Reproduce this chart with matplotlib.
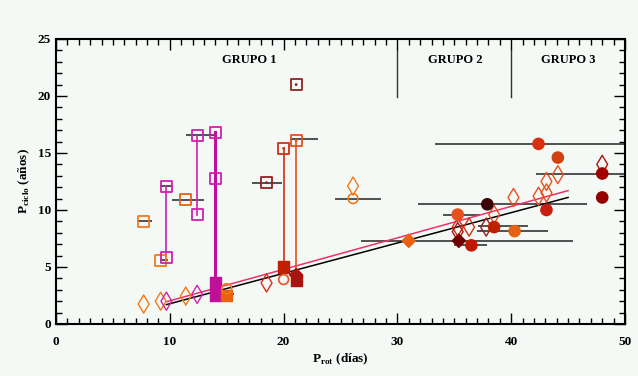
import matplotlib
matplotlib.use('Agg')
import matplotlib.pyplot as plt
from matplotlib.ticker import MultipleLocator

plt.rcParams['font.family'] = ['Liberation Serif', 'DejaVu Serif']
plt.rcParams['font.weight'] = 'bold'
plt.rcParams['mathtext.fontset'] = 'custom'
plt.rcParams['mathtext.rm'] = 'Liberation Serif:bold'

MAG = '#d020b0'
MAGF = '#c0109a'
ORA = '#f07a1a'
ORA2 = '#e86010'
ORR = '#e85020'
RED = '#d03018'
DRED = '#a81410'
BRN = '#922222'
DARK = '#3a0505'

# open squares
osq_x = [7.7, 9.2, 9.7, 9.7, 11.4, 12.4, 12.4, 14.0, 14.0, 18.5, 20.0, 21.1, 21.1]
osq_y = [9.0, 5.6, 12.1, 5.8, 10.9, 16.5, 9.6, 16.8, 12.8, 12.4, 15.4, 16.1, 21.0]
osq_c = [ORA, ORA, MAG, MAG, ORA2, MAG, MAG, MAG, MAG, BRN, RED, ORR, BRN]

# filled squares
fsq_x = [14.0, 14.0, 15.0, 20.0, 21.1]
fsq_y = [3.6, 2.5, 2.5, 5.0, 3.8]
fsq_c = [MAGF, MAGF, ORA2, '#c02000', DRED]

# open diamonds
odm_x = [7.7, 9.2, 9.7, 11.4, 12.4, 18.5, 26.1, 35.3, 35.3, 36.3, 37.8, 38.5,
         40.2, 42.4, 43.1, 43.1, 44.1, 48.0]
odm_y = [1.75, 2.0, 2.0, 2.45, 2.6, 3.6, 12.1, 8.5, 8.1, 8.5, 8.5, 9.6,
         11.1, 11.2, 11.5, 12.5, 13.1, 14.0]
odm_c = [ORA, ORA, MAG, ORA, MAG, RED, ORA, RED, DRED, RED, BRN, ORR,
         ORR, ORR, ORR, ORR, ORR, DRED]

# open circles
oci_x = [15.0, 20.0, 26.1]
oci_y = [3.1, 3.9, 11.0]
oci_c = [ORA, ORR, ORA]

# filled circles
fci_x = [35.3, 36.5, 37.9, 38.5, 40.3, 42.4, 43.1, 44.1, 48.0, 48.0]
fci_y = [9.6, 6.9, 10.5, 8.5, 8.15, 15.8, 10.0, 14.6, 13.2, 11.1]
fci_c = [ORR, '#c01800', DARK, '#c02000', ORA2, '#d83010', '#c82010',
         '#d04010', '#a00000', '#900000']

# filled diamonds
fdm_x = [21.1, 31.0, 35.4]
fdm_y = [4.3, 7.3, 7.3]
fdm_c = [DRED, ORA2, '#700000']

# horizontal error bars: y, xmin, xmax
hb_y = [9.0, 5.6, 12.1, 10.9, 16.6, 2.6, 12.4, 16.2, 11.0, 7.3, 6.9,
        10.5, 9.6, 8.6, 8.2, 15.8, 13.2]
hb_x0 = [7.2, 9.1, 9.1, 10.2, 11.4, 13.5, 17.2, 20.6, 24.5, 26.8, 35.0,
         31.8, 34.0, 37.1, 37.0, 33.3, 42.2]
hb_x1 = [8.4, 9.8, 10.2, 13.0, 13.9, 15.6, 19.9, 23.0, 28.6, 45.4, 37.9,
         46.7, 37.3, 41.5, 43.2, 50.0, 50.0]

# vertical connecting lines
vl_x = [9.7, 12.4, 14.0, 20.0, 21.1]
vl_y0 = [5.8, 9.6, 2.5, 5.0, 4.0]
vl_y1 = [12.1, 16.5, 16.8, 15.4, 16.1]
vl_c = [MAG, MAG, MAGF, RED, ORR]
vl_w = [1.2, 1.2, 2.2, 1.2, 1.2]

# fit lines
fit_x = [9.7, 45.0]
fit_black = [1.7, 11.1]
fit_red = [1.95, 11.7]

groups = ['GRUPO 1', 'GRUPO 2', 'GRUPO 3']
group_x = [17.0, 35.1, 45.0]
sep_x = [30, 40]

bg = '#f5f9f5'
fig = plt.figure(figsize=(6.38, 3.76), dpi=100, facecolor=bg)
ax = fig.add_axes([0.0878, 0.1383, 0.8918, 0.758], facecolor=bg)

ax.hlines(hb_y, hb_x0, hb_x1, color='#222222', lw=1.1, zorder=2)
for x, a, b, c, w in zip(vl_x, vl_y0, vl_y1, vl_c, vl_w):
    ax.plot([x, x], [a, b], color=c, lw=w, zorder=2)

ax.plot(fit_x, fit_black, color='black', lw=1.1, zorder=3)
ax.plot(fit_x, fit_red, color='#f0306a', lw=1.1, zorder=3)

ax.scatter(osq_x, osq_y, marker='s', s=62, facecolors='none',
           edgecolors=osq_c, linewidths=1.3, zorder=4)
ax.scatter([18.5, 20.0, 21.1, 21.1], [12.4, 15.4, 16.1, 21.0], marker='.',
           s=4, color=[BRN, RED, ORR, BRN], zorder=4)
ax.scatter(fsq_x, fsq_y, marker='s', s=65, color=fsq_c, zorder=4)
ax.scatter(odm_x, odm_y, marker='d', s=85, facecolors='none',
           edgecolors=odm_c, linewidths=1.0, zorder=4)
ax.scatter(oci_x, oci_y, marker='o', s=50, facecolors='none',
           edgecolors=oci_c, linewidths=1.2, zorder=4)
ax.scatter(fci_x, fci_y, marker='o', s=65, color=fci_c, zorder=4)
ax.scatter(fdm_x, fdm_y, marker='D', s=45, color=fdm_c, zorder=4)

for x in sep_x:
    ax.plot([x, x], [19.9, 24.0], color='#333333', lw=1.0)
for g, x in zip(groups, group_x):
    ax.text(x, 23.2, g, ha='center', va='center', fontsize=9,
            fontweight='bold')

ax.set_xlim(0, 50)
ax.set_ylim(0, 25)
ax.xaxis.set_major_locator(MultipleLocator(10))
ax.xaxis.set_minor_locator(MultipleLocator(1))
ax.yaxis.set_major_locator(MultipleLocator(5))
ax.yaxis.set_minor_locator(MultipleLocator(1))
ax.tick_params(which='both', direction='in', top=True, right=True,
               labelsize=9.5, width=1.0)
ax.tick_params(which='major', length=8)
ax.tick_params(which='minor', length=4.5)
ax.tick_params(axis='x', pad=9)
for sp in ax.spines.values():
    sp.set_linewidth(1.5)

ax.set_xlabel(r'P$_{\rm rot}$ (días)', fontsize=9.5, fontweight='bold',
              labelpad=2)
ax.set_ylabel(r'P$_{\rm ciclo}$ (años)', fontsize=9.5, fontweight='bold')

fig.savefig('out.png', dpi=100, facecolor=bg)
